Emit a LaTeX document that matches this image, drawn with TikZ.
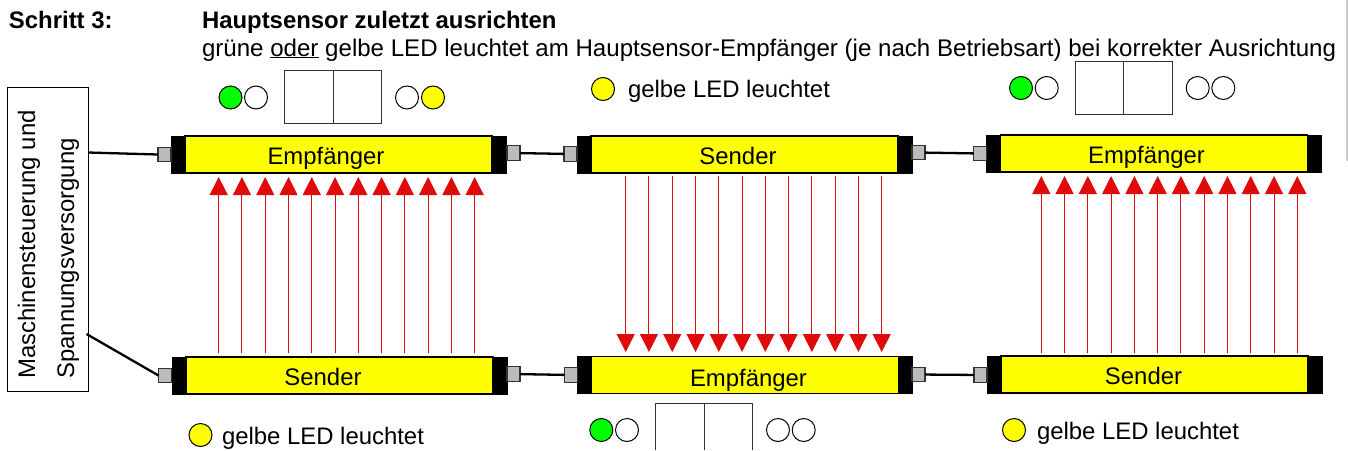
\documentclass[tikz,border=0pt]{standalone}
\usepackage{fontspec}
\setmainfont{Liberation Sans}
\usepackage{tikz}
\usetikzlibrary{arrows.meta,positioning}
\definecolor{raored}{HTML}{E00A0A}
\definecolor{plugrey}{HTML}{BBBBBB}
\definecolor{ledyellow}{HTML}{FFFF00}
\definecolor{ledgreen}{HTML}{00FF00}
\definecolor{edgegrey}{HTML}{CCCCCC}

\begin{document}
\begin{tikzpicture}[
    x=1pt, y=-1pt,
    font=\fontsize{23.9}{28}\selectfont,
    every node/.style={inner sep=0pt, outer sep=0pt},
    txt/.style={anchor=base west},
    barbody/.style={draw=black, line width=1.2pt, fill=ledyellow, minimum width=307pt, minimum height=37pt},
    barend/.style={draw=black, fill=black, minimum width=14pt, minimum height=37pt},
    plug/.style={draw=black!80, line width=1.2pt, fill=plugrey, minimum width=13pt, minimum height=14.5pt},
    cable/.style={draw=black, line width=2.3pt},
    led/.style={circle, draw=black, line width=1pt, minimum size=23pt},
    display/.style={draw=black!80, line width=1pt, minimum width=97pt, minimum height=53pt},
    ray/.style={draw=raored, line width=1pt, -{Triangle[width=18pt,length=18pt]}}
  ]
    \useasboundingbox (0,0) rectangle (1348,450);
    % heading
    \node[txt] (step) at (9,28) {\bfseries Schritt 3:};
    \node[txt] (head) at (202,28) {\bfseries Hauptsensor zuletzt ausrichten};
    \node[txt, font=\fontsize{24.09}{28}\selectfont] (note) at (202,56) {grüne \underline{oder} gelbe LED leuchtet am Hauptsensor-Empfänger (je nach Betriebsart) bei korrekter Ausrichtung};
    % page edge
    \coordinate (edgeA) at (1347,0);
    \coordinate (edgeB) at (1347,161);
    \draw[edgegrey, line width=2pt] (edgeA) -- (edgeB);
    % control box
    \node[draw=black, line width=1pt, minimum width=81pt, minimum height=304pt] (ctrl) at (47.5,239.5) {};
    \node[rotate=90, align=left] (ctrltxt) at (48.5,244.5) {Maschinensteuerung und\\[11pt]Spannungsversorgung};
    \coordinate (ctrlA) at (88,152.5);
    \coordinate (ctrlB) at (86.5,334);
    % sensor bars
    \foreach \n/\x/\y/\tx/\ty/\t in {
        ea/338.5/154.5/326/164/Empfänger, sa/744.5/154.5/738/164/Sender, eb/1154/153.5/1146.5/163/Empfänger,
        sb/339.5/375.5/323/385/Sender, ec/745/375/748.5/386/Empfänger, sc/1154.5/374.5/1143.5/384/Sender} {
      \node[barend] (\n L) at (\x-160.5,\y) {};
      \node[barend] (\n R) at (\x+160.5,\y) {};
      \node[barbody] (\n) at (\x,\y) {};
      \node[anchor=base] (\n txt) at (\tx,\ty) {\t};
    }
    % plugs
    \foreach \n/\x/\y in {
        pa/164.5/154.5, pb/513.5/153, pc/570.5/154, pd/918.5/152.5, pe/980/153.5,
        pf/165/375.5, pg/513.5/374, ph/571/375, pi/918.5/374.5, pj/980.5/375} {
      \node[plug] (\n) at (\x,\y) {};
    }
    % cables
    \draw[cable] (ctrlA) -- (pa.west);
    \draw[cable] (ctrlB) -- (pf.west);
    \foreach \a/\b in {pb/pc,pd/pe,pg/ph,pi/pj}
      \draw[cable] (\a) -- (\b);
    % beams
    \foreach \ax/\ys/\ye in {218.7/353/177, 625.7/176/352, 1041.3/353/176} {
      \foreach \i in {0,...,11} {
        \pgfmathsetmacro\rx{\ax+\i*23.27}
        \coordinate (from\i) at (\rx,\ys);
        \coordinate (to\i) at (\rx,\ye);
        \draw[ray] (from\i) -- (to\i);
      }
    }
    % lights and displays
    \node[led, fill=ledgreen] (ledA) at (230.5,97.5) {};
    \node[led, fill=white] (ledB) at (256,97.5) {};
    \node[display] (dispA) at (333,97) {};
    \draw[black!80, line width=1pt] (dispA.north) -- (dispA.south);
    \node[led, fill=white] (ledC) at (407,97.5) {};
    \node[led, fill=ledyellow] (ledD) at (433,97.5) {};

    \node[led, fill=ledyellow] (ledE) at (603,89) {};
    \node[txt] (ledEtxt) at (628,97) {gelbe LED leuchtet};

    \node[led, fill=ledgreen] (ledF) at (1021,88) {};
    \node[led, fill=white] (ledG) at (1046.7,88) {};
    \node[display] (dispB) at (1123.5,87.5) {};
    \draw[black!80, line width=1pt] (dispB.north) -- (dispB.south);
    \node[led, fill=white] (ledH) at (1197.7,88) {};
    \node[led, fill=white] (ledI) at (1223.3,88) {};

    \node[led, fill=ledyellow] (ledJ) at (200.5,435) {};
    \node[txt] (ledJtxt) at (222,444) {gelbe LED leuchtet};

    \node[led, fill=ledgreen] (ledK) at (601.3,430) {};
    \node[led, fill=white] (ledL) at (627,430) {};
    \draw[black!80, line width=1pt] (655.3,450) |- (752.6,403) -- (752.6,450) (704,403) -- (704,450);
    \node[led, fill=white] (ledM) at (778,430) {};
    \node[led, fill=white] (ledN) at (803.7,430) {};

    \node[led, fill=ledyellow] (ledO) at (1014,430) {};
    \node[txt] (ledOtxt) at (1037,439) {gelbe LED leuchtet};
  \end{tikzpicture}
\end{document}
